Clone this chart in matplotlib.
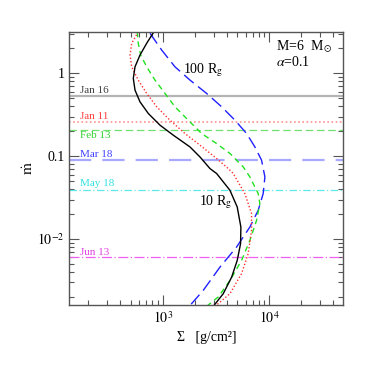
import numpy as np
import matplotlib
matplotlib.use('Agg')
import matplotlib.pyplot as plt
from matplotlib.ticker import LogLocator, NullFormatter

plt.rcParams['font.family'] = ['Liberation Serif', 'DejaVu Serif']
plt.rcParams['mathtext.fontset'] = 'stix'

# S-curves (Sigma in g/cm^2, mdot)
sig_10 = [828, 708, 612, 550, 530, 550, 612, 733, 944, 1257, 1803, 2238, 2776, 3207,
          4276, 5003, 5416, 5380, 5003, 4436, 3700, 2980]
mdot_10 = [3.18, 2.31, 1.66, 1.20, 0.87, 0.628, 0.454, 0.328, 0.237, 0.1795, 0.1295, 0.098, 0.071, 0.0618,
           0.0388, 0.0244, 0.01397, 0.00879, 0.00552, 0.00347, 0.00219, 0.00154]

sig_red = [590, 512, 494, 512, 590, 708, 879, 1170, 1618, 2238, 3207, 4121, 4592,
           5902, 6820, 6820, 6340, 5495, 4276, 3090]
mdot_red = [3.18, 2.31, 1.66, 1.20, 0.83, 0.573, 0.395, 0.272, 0.188, 0.136, 0.0938, 0.071, 0.0618,
            0.0354, 0.0203, 0.0127, 0.00666, 0.00382, 0.00219, 0.00154]

sig_green = [578, 590, 622, 708, 847, 1051, 1304, 1738, 2318, 3207, 4276, 5700, 6577,
             7870, 8160, 7600, 6577, 5495, 4276, 3320, 2582]
mdot_green = [3.18, 2.31, 1.66, 1.20, 0.83, 0.573, 0.395, 0.272, 0.188, 0.142, 0.108, 0.0743, 0.0562,
              0.0354, 0.0268, 0.0168, 0.00964, 0.00552, 0.00316, 0.0020, 0.00154]

sig_100 = [760, 979, 1304, 1803, 2582, 3573, 4765, 6124, 7330, 8470, 9100, 8770,
           7870, 6577, 4930, 3444, 2400, 1774]
mdot_100 = [3.05, 1.91, 1.20, 0.83, 0.573, 0.395, 0.272, 0.188, 0.1295, 0.0895, 0.0562, 0.0354,
            0.0222, 0.01397, 0.008, 0.00458, 0.0024, 0.00154]

# observed epochs
dates = ['Jan 16', 'Jan 11', 'Feb 13', 'Mar 18', 'May 18', 'Jun 13']
date_mdot = [0.53, 0.26, 0.21, 0.09, 0.0395, 0.006]

line_styles = [
    dict(color='#b4b4b4', ls='-', lw=1.6),
    dict(color='#ff9090', ls=(0, (1, 1.5)), lw=1.2),
    dict(color='#70e070', ls=(0, (6, 3)), lw=0.9),
    dict(color='#a8a8ff', ls=(0, (10, 5)), lw=1.6),
    dict(color='#60e8e8', ls=(0, (6, 2, 1, 2)), lw=0.9),
    dict(color='#f060f0', ls=(0, (8, 2, 1, 2)), lw=0.9),
]
text_cols = ['#404040', '#ff4040', '#30d030', '#4040ff', '#30e0e0', '#e040e0']
text_fac = [1.18, 1.17, 0.855, 1.17, 1.19, 1.16]

fig = plt.figure(figsize=(3.74, 3.74), dpi=100)
ax = fig.add_axes([0.1853, 0.1845, 0.7326, 0.73])

for m, st in zip(date_mdot, line_styles):
    ax.axhline(m, **st)
for d, m, c, f in zip(dates, date_mdot, text_cols, text_fac):
    ax.text(0.039, m * f, d, color=c, fontsize=8, va='center', ha='left',
            transform=ax.get_yaxis_transform())

ax.plot(sig_100, mdot_100, color='#2020ff', ls=(0, (9, 4)), lw=1.0)
ax.plot(sig_green, mdot_green, color='#20e020', ls=(0, (4, 3)), lw=1.0)
ax.plot(sig_red, mdot_red, color='#ff3030', ls=(0, (1, 1.5)), lw=1.0)
ax.plot(sig_10, mdot_10, color='black', lw=1.0)

ax.set_xscale('log')
ax.set_yscale('log')
ax.set_xlim(133, 49500)
ax.set_ylim(0.0016, 3.16)

ax.set_xticks([1e3, 1e4])
ax.set_xticklabels([r'$10^3$', r'$10^4$'])
ax.set_yticks([1e-2, 0.1, 1])
ax.set_yticklabels([r'$10^{-2}$', '0.1', '1'])
ax.xaxis.set_minor_locator(LogLocator(base=10, subs=np.arange(2, 10)))
ax.yaxis.set_minor_locator(LogLocator(base=10, subs=np.arange(2, 10)))
ax.xaxis.set_minor_formatter(NullFormatter())
ax.yaxis.set_minor_formatter(NullFormatter())

ax.tick_params(which='both', direction='in', top=True, right=True, colors='#555555',
               labelcolor='black', labelsize=10)
ax.tick_params(which='major', length=7, width=0.8)
ax.tick_params(which='minor', length=3.5, width=0.8)
for s in ax.spines.values():
    s.set_color('#555555')
    s.set_linewidth(1.0)

ax.text(0.488, 0.861, r'100 R$_{\rm g}$', transform=ax.transAxes, ha='center', va='center', fontsize=10)
ax.text(0.535, 0.377, r'10 R$_{\rm g}$', transform=ax.transAxes, ha='center', va='center', fontsize=10)
ax.text(0.754, 0.945, r'M=6  M$_\odot$', transform=ax.transAxes, ha='left', va='center', fontsize=10)
ax.text(0.754, 0.889, r'$\alpha$=0.1', transform=ax.transAxes, ha='left', va='center', fontsize=10)

ax.set_xlabel('Σ   [g/cm²]', fontsize=10, labelpad=4)
ax.set_ylabel(r'$\dot{\rm m}$', fontsize=11, labelpad=1)

fig.savefig('out.png', dpi=100)
